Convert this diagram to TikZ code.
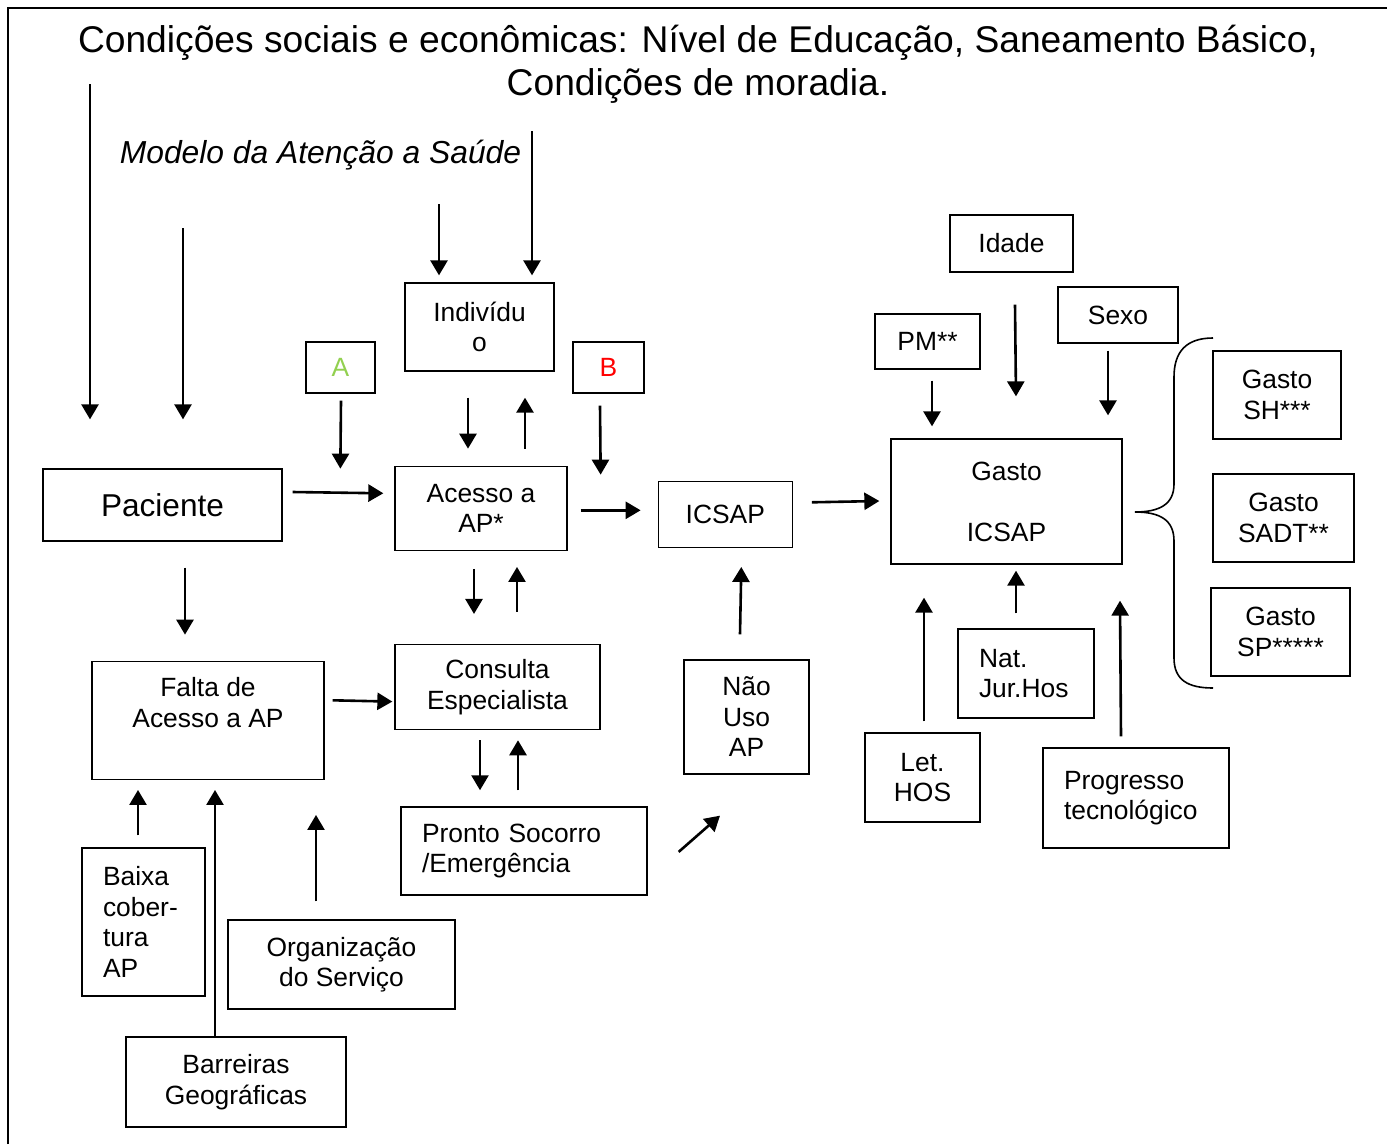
\documentclass[tikz,border=0pt]{standalone}
\usepackage{fontspec}
\setmainfont{Liberation Sans}
\usepackage{tikz}
\usetikzlibrary{positioning,calc,arrows.meta}
\definecolor{agreen}{HTML}{92D050}
\tikzset{block/.style={draw,line width=1.3pt,align=center,inner sep=0pt,font=\fontsize{26.4}{30.5}\selectfont},
         lblock/.style={block,align=left,inner xsep=21pt},
         frame/.style={line width=2.2pt}
}
\tikzstyle{arrow} = [line width=2.6pt,-{Triangle[length=15pt,width=17pt]}]

\begin{document}
\begin{tikzpicture}[x=1pt,y=-1pt]
\useasboundingbox (0,0) rectangle (1387,1144);
\draw[frame] (8,1144) -- (8,8) -- (1387,8);

\node[align=center,font=\fontsize{37.2}{43}\selectfont] (title) at (698,64) {Condições sociais e econômicas: Nível de Educação, Saneamento Básico,\\Condições de moradia.};
\node[font=\fontsize{31.8}{36}\selectfont\itshape] (modelo) at (320.5,155) {Modelo da Atenção a Saúde};

\node[block,font=\fontsize{31.6}{36}\selectfont,minimum width=239pt,minimum height=72pt] (pac) at (162.5,505) {Paciente};
\node[block,minimum width=232pt,minimum height=118pt,below=119pt of pac,xshift=45.5pt] (falta) {Falta de\\Acesso a AP\\[5.5pt]\mbox{}};
\node[block,minimum width=149pt,minimum height=88pt] (indiv) at (479.5,327) {Indivídu\\o};
\node[block,minimum width=69pt,minimum height=51pt,text=agreen] (boxA) at (340.5,367.5) {A};
\node[block,minimum width=71pt,minimum height=51pt,text=red] (boxB) at (608.5,367.5) {B};
\node[block,minimum width=172pt,minimum height=84pt,below=94pt of indiv,xshift=1.5pt] (acesso) {Acesso a\\AP*};
\node[block,minimum width=205pt,minimum height=85pt,below=93pt of acesso,xshift=16.5pt] (consulta) {Consulta\\Especialista};
\node[lblock,text width=204pt,minimum height=88pt,below=76pt of consulta,xshift=26.5pt] (pronto) {Pronto Socorro\\/Emergência};
\node[block,minimum width=134pt,minimum height=66pt,right=90pt of acesso,yshift=-6pt] (icsap) {ICSAP};
\node[block,minimum width=125pt,minimum height=114pt] (naouso) at (746.5,717) {Não\\Uso\\AP};
\node[block,minimum width=231pt,minimum height=125pt] (gasto) at (1006.5,501.5) {Gasto\\[30.5pt]ICSAP};
\node[block,minimum width=123pt,minimum height=57pt] (idade) at (1011.5,243.5) {Idade};
\node[block,minimum width=120pt,minimum height=56pt] (sexo) at (1118,315) {Sexo};
\node[block,minimum width=105pt,minimum height=55pt] (pm) at (927.5,341.5) {PM**};
\node[block,minimum width=128pt,minimum height=88pt] (gsh) at (1277,395) {Gasto\\SH***};
\node[block,minimum width=141pt,minimum height=88pt] (gsadt) at (1283.5,518) {Gasto\\SADT**};
\node[block,minimum width=139pt,minimum height=88pt] (gsp) at (1280.5,632) {Gasto\\SP*****};
\node[lblock,text width=94pt,minimum height=89pt] (natjur) at (1026,673.5) {Nat.\\Jur.Hos};
\node[block,minimum width=115pt,minimum height=89pt] (lethos) at (922.5,777.5) {Let.\\HOS};
\node[lblock,text width=144pt,minimum height=100pt] (progr) at (1136,798) {Progresso\\tecnológico};
\node[lblock,text width=81pt,minimum height=148pt] (baixa) at (143.5,922) {Baixa\\cober-\\tura\\AP};
\node[block,minimum width=227pt,minimum height=89pt] (org) at (341.5,964.5) {Organização\\do Serviço};
\node[block,minimum width=220pt,minimum height=90pt] (barr) at (236,1082) {Barreiras\\Geográficas};

% free ends of the long arrows
\coordinate (t1) at (90,84);
\coordinate (t2) at (183,228);
\coordinate (m1) at (439,204);
\coordinate (m2) at (532,131);

% brace towards the three kinds of spending
\draw[line width=1.6pt] (1213,338) .. controls (1186,338) and (1174,352) .. (1174,377) -- (1174,484)
  .. controls (1174,504) and (1160,512) .. (1135,512)
  .. controls (1160,512) and (1174,520) .. (1174,541) -- (1174,658)
  .. controls (1174,680) and (1188,688) .. (1213,688);

\draw[arrow] (t1) -- ($(pac.north)+(-72.5,-49)$);
\draw[arrow] (t2) -- ($(pac.north)+(20.5,-49)$);
\draw[arrow] (m1) -- ($(indiv.north)+(-40.5,-7)$);
\draw[arrow] (m2) -- ($(indiv.north)+(52.5,-7)$);
\draw[arrow] ($(boxA.south)+(0.5,7)$) -- ($(acesso.north west)+(-54,3)$);
\draw[arrow] ($(indiv.south)+(-11.5,26)$) -- ($(acesso.north)+(-13,-17)$);
\draw[arrow] ($(acesso.north)+(44,-17)$) -- ($(indiv.south)+(45.5,26)$);
\draw[arrow] ($(boxB.south)+(-8.5,12)$) -- ($(acesso.north east)+(33,9)$);
\draw[arrow] ($(pac.east)+(10,-13)$) -- ($(acesso.west)+(-11,-15)$);
\draw[arrow] ($(acesso.east)+(13,2)$) -- ($(icsap.west)+(-17,-4)$);
\draw[arrow] ($(icsap.east)+(19,-12)$) -- ($(gasto.west)+(-11,-0.5)$);
\draw[arrow] ($(acesso.south)+(-7,18)$) -- ($(consulta.north)+(-23.5,-30)$);
\draw[arrow] ($(consulta.north)+(19.5,-32)$) -- ($(acesso.south)+(36,16)$);
\draw[arrow] ($(pac.south)+(22.5,26)$) -- ($(falta.north)+(-23,-26)$);
\draw[arrow] ($(falta.east)+(8,-20)$) -- ($(consulta.west)+(-2,14.5)$);
\draw[arrow] ($(consulta.south)+(-17.5,10)$) -- ($(pronto.north)+(-44,-16)$);
\draw[arrow] ($(pronto.north)+(-6,-16)$) -- ($(consulta.south)+(20.5,10)$);
\draw[arrow] ($(pronto.east)+(31,1)$) -- ($(naouso.south)+(-26.5,41)$);
\draw[arrow] ($(naouso.north)+(-6.5,-25)$) -- ($(icsap.south)+(16,19)$);
\draw[arrow] ($(pm.south)+(4.5,11)$) -- ($(gasto.north)+(-74.5,-12)$);
\draw[arrow] ($(idade.south)+(3.5,32)$) -- ($(gasto.north)+(9.5,-42)$);
\draw[arrow] ($(sexo.south)+(-10,7)$) -- ($(gasto.north)+(101.5,-23)$);
\draw[arrow] ($(natjur.north)+(-10,-15)$) -- ($(gasto.south)+(9.5,6)$);
\draw[arrow] ($(lethos.north)+(1.5,-11)$) -- ($(gasto.south)+(-82.5,33)$);
\draw[arrow] ($(progr.north)+(-15,-11)$) -- ($(gasto.south)+(113.5,36)$);
\draw[arrow] ($(baixa.north)+(-5.5,-12)$) -- ($(falta.south)+(-70,10)$);
\draw[arrow] ($(barr.north)+(-21,0)$) -- ($(falta.south)+(7,10)$);
\draw[arrow] ($(org.north)+(-25.5,-18)$) -- ($(falta.south)+(108,35)$);

\end{tikzpicture}
\end{document}
